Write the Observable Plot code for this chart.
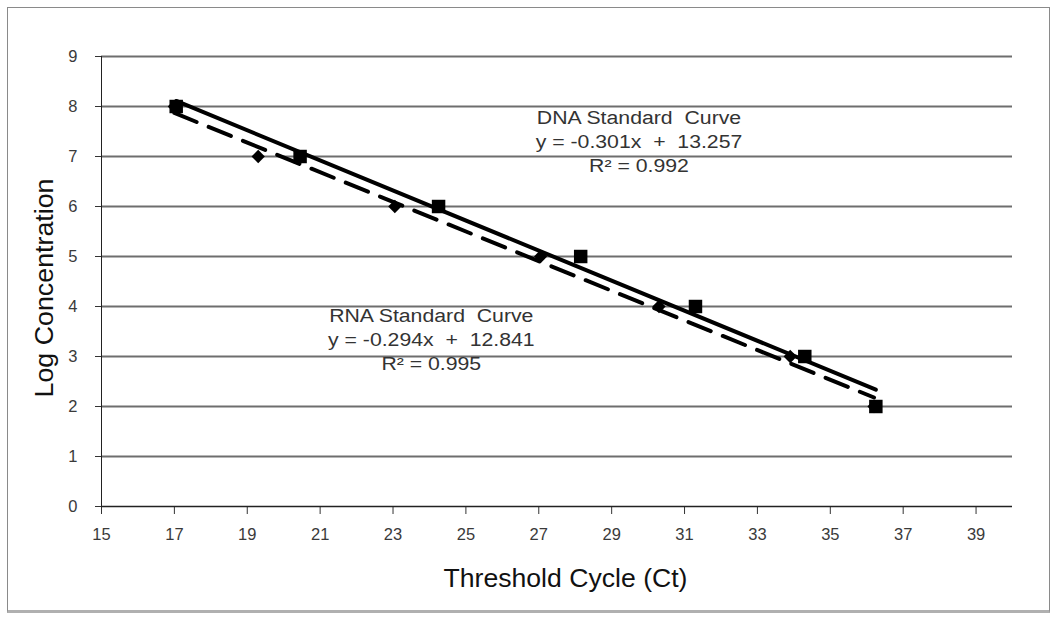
<!DOCTYPE html>
<html>
<head>
<meta charset="utf-8">
<script src="https://cdn.jsdelivr.net/npm/d3@7"></script>
<script src="https://cdn.jsdelivr.net/npm/@observablehq/plot@0.6"></script>
<style>
  html, body { margin: 0; padding: 0; background: #fff; }
  #wrap { position: relative; width: 1056px; height: 618px; overflow: hidden; }
  #border { position: absolute; left: 7px; top: 7px; width: 1041px; height: 602px; border: 1px solid #8a8a8a; border-bottom: 3px solid #b0b0b0; pointer-events: none; }
  svg { display: block; }
</style>
</head>
<body>
<div id="wrap"><div id="border"></div></div>
<script>
// Data
const dnaCt   = [17.05, 20.45, 24.25, 28.15, 31.3, 34.3, 36.25];
const dnaLog  = [8, 7, 6, 5, 4, 3, 2];
const rnaCt   = [17.0, 19.3, 23.05, 27.05, 30.3, 33.9, 36.2];
const rnaLog  = [8, 7, 6, 5, 4, 3, 2];
const xTicks  = [15, 17, 19, 21, 23, 25, 27, 29, 31, 33, 35, 37, 39];
const yTicks  = [0, 1, 2, 3, 4, 5, 6, 7, 8, 9];
const annotations = [
  {x: 29.75, y: 7.32, text: "DNA Standard  Curve\ny = -0.301x  +  13.257\nR² = 0.992"},
  {x: 24.05, y: 3.37, text: "RNA Standard  Curve\ny = -0.294x  +  12.841\nR² = 0.995"}
];
const xTitle = "Threshold Cycle (Ct)";
const yTitle = "Log Concentration";

const dna = dnaCt.map((x, i) => ({x, y: dnaLog[i]}));
const rna = rnaCt.map((x, i) => ({x, y: rnaLog[i]}));

const font = "'Liberation Sans', Arial, sans-serif";

const chart = Plot.plot({
  width: 1056,
  height: 618,
  marginLeft: 101,
  marginRight: 44,
  marginTop: 56,
  marginBottom: 112,
  style: {fontFamily: font, fontSize: "16px", color: "#222", background: "transparent"},
  x: {domain: [15, 40], ticks: xTicks},
  y: {domain: [0, 9], ticks: yTicks},
  marks: [
    Plot.ruleY(yTicks.filter(d => d > 0), {stroke: "#6e6e6e", strokeWidth: 2}),
    Plot.axisY({ticks: yTicks, tickSize: 6, tickPadding: 18, label: null, stroke: "#333", fill: "#3a3a3a", fontSize: 16.5}),
    Plot.axisX({ticks: xTicks, tickSize: 8, tickPadding: 14, label: null, stroke: "#333", fill: "#3a3a3a", fontSize: 16.5}),
    Plot.ruleX([15], {stroke: "#222", strokeWidth: 1}),
    Plot.ruleY([0], {stroke: "#222", strokeWidth: 1.5}),
    Plot.linearRegressionY(rna, {x: "x", y: "y", ci: 0, stroke: "#000", strokeWidth: 4, strokeDasharray: "24,13"}),
    Plot.linearRegressionY(dna, {x: "x", y: "y", ci: 0, stroke: "#000", strokeWidth: 4}),
    Plot.dot(rna, {x: "x", y: "y", symbol: "diamond2", r: 6, fill: "#000", stroke: "none"}),
    Plot.dot(dna, {x: "x", y: "y", symbol: "square", r: 7.6, fill: "#000", stroke: "none"}),
    Plot.text(annotations, {x: "x", y: "y", text: "text", fontSize: 18, lineHeight: 1.33, fill: "#333", fontFamily: font}),
    Plot.text([xTitle], {frameAnchor: "bottom", textAnchor: "middle", dx: 8.5, dy: 80, fontSize: 26, fill: "#111", fontFamily: font}),
    Plot.text([yTitle], {frameAnchor: "left", textAnchor: "middle", dx: -57, dy: 6.5, rotate: -90, fontSize: 25, fill: "#111", fontFamily: font})
  ]
});

document.getElementById("wrap").prepend(chart);

// Horizontal stretch of some texts to match the reference's rendering
function stretchTo(el, len) {
  el.setAttribute("textLength", len.toFixed(1));
  el.setAttribute("lengthAdjust", "spacingAndGlyphs");
}
chart.querySelectorAll("tspan").forEach(t => {
  stretchTo(t, t.getComputedTextLength() * 1.18);
});
chart.querySelectorAll("text").forEach(t => {
  if (t.textContent === xTitle) stretchTo(t, 244);
  if (t.textContent === yTitle) stretchTo(t, 219);
});
</script>
</body>
</html>
